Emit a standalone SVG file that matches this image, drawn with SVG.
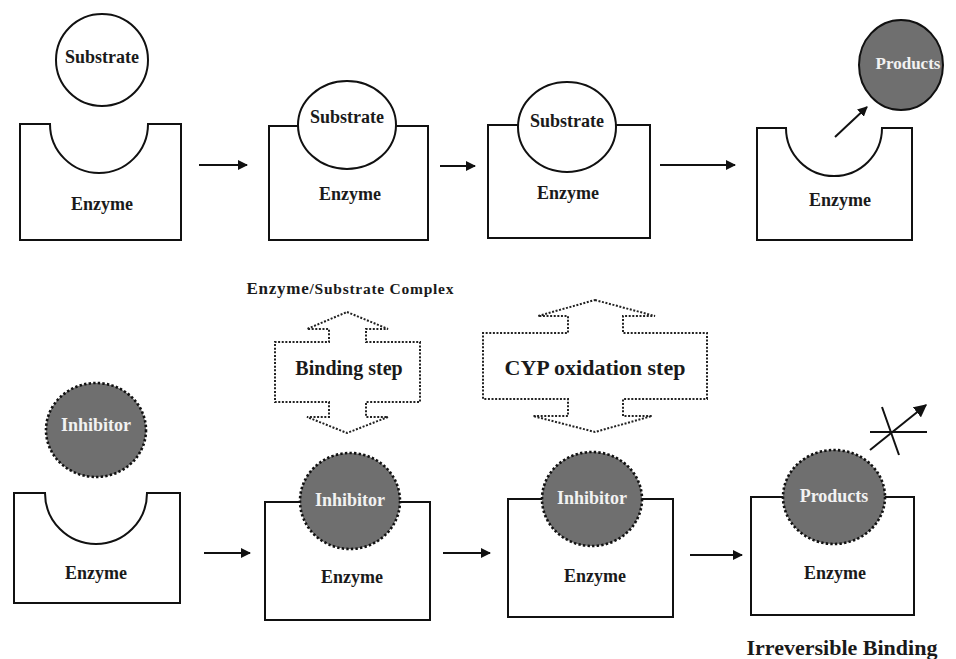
<svg xmlns="http://www.w3.org/2000/svg" width="956" height="659" viewBox="0 0 956 659">
  <defs>
    <marker id="head" viewBox="0 0 10 10" refX="9" refY="5" markerWidth="10" markerHeight="10" markerUnits="userSpaceOnUse" orient="auto">
      <path d="M0,0 L10,5 L0,10 Z" fill="#111"/>
    </marker>
    <marker id="headL" viewBox="0 0 10 10" refX="9" refY="5" markerWidth="13" markerHeight="13" markerUnits="userSpaceOnUse" orient="auto">
      <path d="M0,0 L10,5 L0,10 Z" fill="#111"/>
    </marker>
  </defs>
  <style>
    .enz { fill: #fff; stroke: #111; stroke-width: 2; }
    .sub { fill: #fff; stroke: #111; stroke-width: 2; }
    .dark { fill: #6f6f6f; stroke: #111; stroke-width: 2.6; stroke-dasharray: 2.4 2.2; }
    .dark-solid { fill: #6f6f6f; stroke: #111; stroke-width: 2; }
    .step { fill: #fff; stroke: #222; stroke-width: 2; stroke-dasharray: 2 1.6; }
    .lbl { font-family: "Liberation Serif", "Times New Roman", serif; font-weight: bold; fill: #1a1a1a; text-anchor: middle; }
    .wlbl { font-family: "Liberation Serif", "Times New Roman", serif; font-weight: bold; fill: #f2f2f2; text-anchor: middle; }
    .conn { stroke: #111; stroke-width: 2; fill: none; }
  </style>
  <rect width="956" height="659" fill="#fff"/>

  <!-- top row: substrate pathway -->
  <g id="substrate-free">
    <circle class="sub" cx="102" cy="60" r="46"/>
    <text class="lbl" x="102" y="63" font-size="18">Substrate</text>
  </g>
  <g id="enzyme-1">
    <path class="enz" d="M20,124 H50 A49,49 0 0 0 148,124 H181 V240 H20 Z"/>
    <text class="lbl" x="102" y="210" font-size="18">Enzyme</text>
  </g>
  <g id="complex-1">
    <rect class="enz" x="269" y="126" width="159" height="114"/>
    <ellipse class="sub" cx="347" cy="125" rx="49" ry="44"/>
    <text class="lbl" x="347" y="123" font-size="18">Substrate</text>
    <text class="lbl" x="350" y="200" font-size="18">Enzyme</text>
  </g>
  <g id="complex-2">
    <rect class="enz" x="488" y="125" width="162" height="113"/>
    <ellipse class="sub" cx="567" cy="127" rx="49" ry="45"/>
    <text class="lbl" x="567" y="127" font-size="18">Substrate</text>
    <text class="lbl" x="568" y="199" font-size="18">Enzyme</text>
  </g>
  <g id="enzyme-4">
    <path class="enz" d="M757,128 H786 A48,48 0 0 0 882,128 H912 V240 H757 Z"/>
    <text class="lbl" x="840" y="206" font-size="18">Enzyme</text>
  </g>
  <g id="products-free">
    <ellipse class="dark-solid" cx="901" cy="65" rx="42" ry="45"/>
    <text class="wlbl" x="908" y="69" font-size="17">Products</text>
  </g>
  <g id="complex-label">
    <text class="lbl" x="350" y="294" textLength="207" lengthAdjust="spacing"><tspan font-size="17">Enzyme</tspan><tspan font-size="15.5">/Substrate Complex</tspan></text>
  </g>

  <!-- step labels -->
  <g id="binding-step">
    <path class="step" d="M347,312 L388,329 L366,329 L366,342 L420,342 L420,402 L366,402 L366,417 L388,417 L347,433 L307,417 L329,417 L329,402 L275,402 L275,342 L329,342 L329,329 L307,329 Z"/>
    <text class="lbl" x="349" y="375" font-size="20">Binding step</text>
  </g>
  <g id="cyp-step">
    <path class="step" d="M595,300 L655,316 L623,316 L623,333 L707,333 L707,399 L623,399 L623,416 L652,416 L595,432 L533,416 L568,416 L568,399 L483,399 L483,333 L568,333 L568,316 L538,316 Z"/>
    <text class="lbl" x="595" y="375" font-size="22">CYP oxidation step</text>
  </g>

  <!-- bottom row: inhibitor pathway -->
  <g id="inhibitor-free">
    <ellipse class="dark" cx="96" cy="430" rx="50" ry="47"/>
    <text class="wlbl" x="96" y="431" font-size="18">Inhibitor</text>
  </g>
  <g id="enzyme-5">
    <path class="enz" d="M14,493 H45 A51,51 0 0 0 147,493 H180 V603 H14 Z"/>
    <text class="lbl" x="96" y="579" font-size="18">Enzyme</text>
  </g>
  <g id="inhibitor-complex-1">
    <rect class="enz" x="265" y="502" width="165" height="118"/>
    <ellipse class="dark" cx="350" cy="501" rx="50" ry="48"/>
    <text class="wlbl" x="350" y="506" font-size="18">Inhibitor</text>
    <text class="lbl" x="352" y="583" font-size="18">Enzyme</text>
  </g>
  <g id="inhibitor-complex-2">
    <rect class="enz" x="508" y="499" width="165" height="118"/>
    <ellipse class="dark" cx="592" cy="499" rx="50" ry="47"/>
    <text class="wlbl" x="592" y="504" font-size="18">Inhibitor</text>
    <text class="lbl" x="595" y="582" font-size="18">Enzyme</text>
  </g>
  <g id="product-complex">
    <rect class="enz" x="751" y="497" width="163" height="118"/>
    <ellipse class="dark" cx="834" cy="497" rx="51" ry="47"/>
    <text class="wlbl" x="834" y="502" font-size="18">Products</text>
    <text class="lbl" x="835" y="579" font-size="18">Enzyme</text>
  </g>
  <g id="irreversible-label">
    <text class="lbl" x="842" y="655" font-size="22">Irreversible Binding</text>
  </g>

  <!-- connectors -->
  <g id="connectors">
    <line class="conn" x1="199" y1="165" x2="247" y2="165" marker-end="url(#head)"/>
    <line class="conn" x1="440" y1="166" x2="475" y2="166" marker-end="url(#head)"/>
    <line class="conn" x1="660" y1="165" x2="735" y2="165" marker-end="url(#head)"/>
    <line class="conn" x1="835" y1="137" x2="867" y2="107" marker-end="url(#head)"/>
    <line class="conn" x1="204" y1="553" x2="250" y2="553" marker-end="url(#head)"/>
    <line class="conn" x1="443" y1="553" x2="490" y2="553" marker-end="url(#head)"/>
    <line class="conn" x1="690" y1="555" x2="742" y2="555" marker-end="url(#head)"/>
    <line class="conn" x1="870" y1="450" x2="926" y2="405" marker-end="url(#headL)"/>
    <line class="conn" x1="870" y1="432" x2="927" y2="432"/>
    <line class="conn" x1="882" y1="407" x2="899" y2="455"/>
  </g>
</svg>
